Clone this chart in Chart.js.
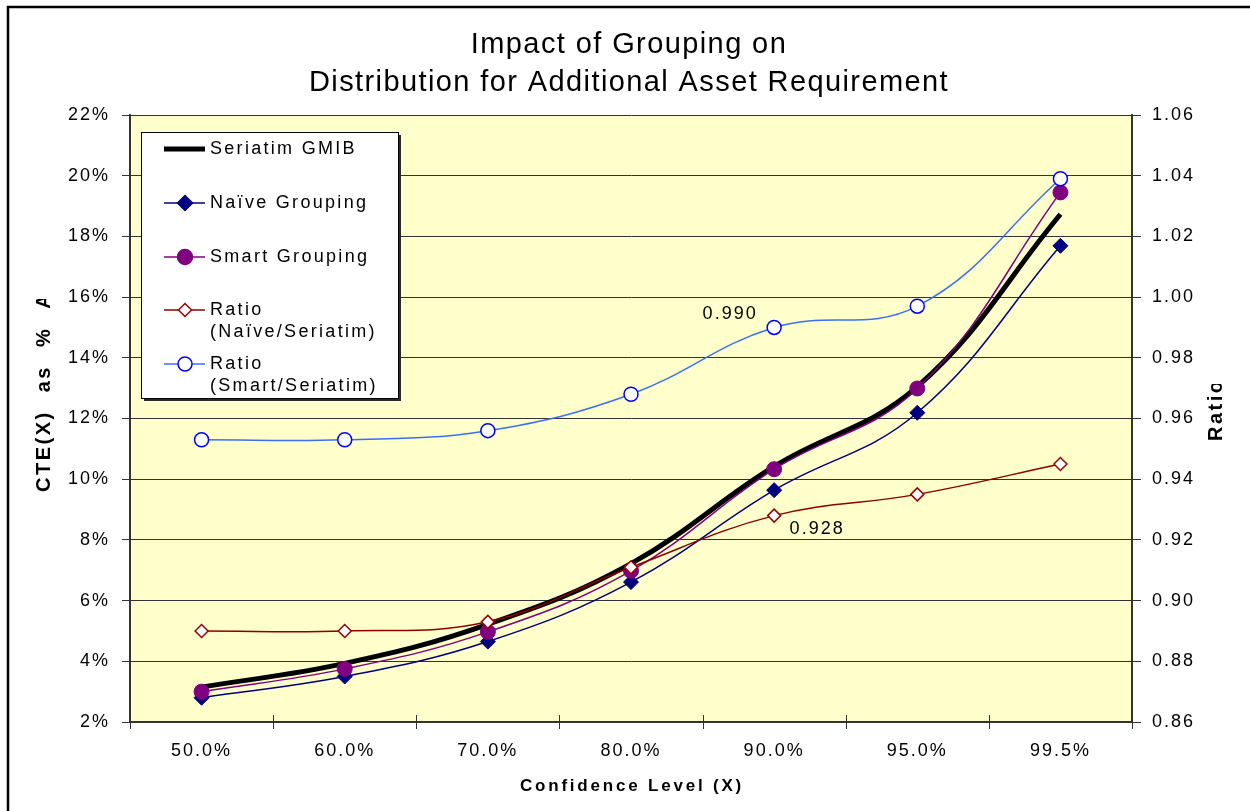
<!DOCTYPE html>
<html>
<head>
<meta charset="utf-8">
<script src="https://cdn.jsdelivr.net/npm/chart.js@4.4.1/dist/chart.umd.min.js"></script>
<style>
  html, body { margin: 0; padding: 0; background: #fff; }
  #wrap { width: 1250px; height: 811px; position: relative; }
</style>
</head>
<body>
<div id="wrap"><canvas id="c" width="1250" height="811"></canvas></div>
<script>
// Confidence levels on the category axis
const categories = ['50.0%', '60.0%', '70.0%', '80.0%', '90.0%', '95.0%', '99.5%'];

// CTE(X) as % of account value (left axis)
const seriatimGMIB = [3.15, 3.93, 5.22, 7.22, 10.42, 13.05, 18.73];
const naiveGrouping = [2.80, 3.50, 4.65, 6.61, 9.64, 12.19, 17.69];
const smartGrouping = [3.00, 3.75, 4.97, 6.98, 10.33, 12.99, 19.45];

// Ratios to seriatim (right axis)
const ratioNaive = [0.890, 0.890, 0.893, 0.911, 0.928, 0.935, 0.945];
const ratioSmart = [0.953, 0.953, 0.956, 0.968, 0.990, 0.997, 1.039];

// Axis ranges / tick steps
const leftTicks = { min: 2, max: 22, step: 2 };
const rightTicks = { min: 0.86, max: 1.06, step: 0.02 };

const titleLines = ['Impact of Grouping on', 'Distribution for Additional Asset Requirement'];
const xTitle = 'Confidence Level (X)';
const yTitle = 'CTE(X) as % A';
const y1Title = 'Ratio';

const FONT = '"Liberation Sans", Arial, Helvetica, sans-serif';
const GRID = '#333333';

const canvas = document.getElementById('c');
const ctx0 = canvas.getContext('2d');
ctx0.letterSpacing = '2px';

function drawMarker(ctx, style, x, y, r, fill, stroke, lw) {
  ctx.save();
  ctx.beginPath();
  if (style === 'rectRot') {
    ctx.moveTo(x - r, y);
    ctx.lineTo(x, y - r);
    ctx.lineTo(x + r, y);
    ctx.lineTo(x, y + r);
    ctx.closePath();
  } else {
    ctx.arc(x, y, r, 0, Math.PI * 2);
  }
  ctx.fillStyle = fill;
  ctx.fill();
  ctx.lineWidth = lw;
  ctx.strokeStyle = stroke;
  ctx.stroke();
  ctx.restore();
}

const legendEntries = [
  { lines: ['Seriatim GMIB'], color: '#000000', width: 5, marker: null, y: 149 },
  { lines: ['Naïve Grouping'], color: '#000080', width: 1.5, marker: ['rectRot', 7.5, '#000080', '#000080'], y: 203 },
  { lines: ['Smart Grouping'], color: '#800080', width: 1.5, marker: ['circle', 7.5, '#800080', '#800080'], y: 257 },
  { lines: ['Ratio', '(Naïve/Seriatim)'], color: '#8B0000', width: 1.5, marker: ['rectRot', 6.5, '#ffffff', '#990000'], y: 310 },
  { lines: ['Ratio', '(Smart/Seriatim)'], color: '#3A6EFF', width: 1.5, marker: ['circle', 7, '#ffffff', '#0000FF'], y: 364 }
];

const decor = {
  id: 'decor',
  beforeDraw(chart) {
    const ctx = chart.ctx, a = chart.chartArea;
    ctx.letterSpacing = '2px';
    ctx.save();
    ctx.fillStyle = '#ffffff';
    ctx.fillRect(0, 0, chart.width, chart.height);
    ctx.fillStyle = '#FFFFCC';
    ctx.fillRect(a.left, a.top, a.right - a.left, a.bottom - a.top);
    ctx.restore();
  },
  afterDatasetsDraw(chart) {
    const ctx = chart.ctx;
    // value callouts
    ctx.save();
    ctx.font = '18px ' + FONT;
    ctx.letterSpacing = '2px';
    ctx.fillStyle = '#000';
    ctx.textAlign = 'center';
    ctx.textBaseline = 'middle';
    const pS = chart.getDatasetMeta(4).data[4];
    ctx.fillText(ratioSmart[4].toFixed(3), pS.x - 44, pS.y - 13);
    const pN = chart.getDatasetMeta(3).data[4];
    ctx.fillText(ratioNaive[4].toFixed(3), pN.x + 43, pN.y + 13);
    ctx.restore();

    // legend box
    const lx = 141, ly = 132, lw = 257, lh = 266;
    ctx.save();
    ctx.fillStyle = '#2a2a2a';
    ctx.fillRect(lx + 3, ly + 3, lw, lh);
    ctx.fillStyle = '#ffffff';
    ctx.fillRect(lx, ly, lw, lh);
    ctx.strokeStyle = '#000';
    ctx.lineWidth = 1;
    ctx.strokeRect(lx + 0.5, ly + 0.5, lw, lh);
    ctx.font = '18px ' + FONT;
    ctx.letterSpacing = '2.3px';
    ctx.textAlign = 'left';
    ctx.textBaseline = 'middle';
    legendEntries.forEach(e => {
      ctx.beginPath();
      ctx.strokeStyle = e.color;
      ctx.lineWidth = e.width;
      ctx.moveTo(164, e.y);
      ctx.lineTo(205, e.y);
      ctx.stroke();
      if (e.marker) drawMarker(ctx, e.marker[0], 185, e.y, e.marker[1], e.marker[2], e.marker[3], 1.5);
      ctx.fillStyle = '#000';
      e.lines.forEach((t, i) => ctx.fillText(t, 210, e.y + i * 22));
    });
    ctx.restore();
  },
  afterDraw(chart) {
    const ctx = chart.ctx, a = chart.chartArea;
    const xs = chart.scales.x;
    ctx.save();
    // cross tick marks between categories
    const half = (xs.getPixelForValue(1) - xs.getPixelForValue(0)) / 2;
    ctx.strokeStyle = GRID;
    ctx.lineWidth = 1;
    for (let i = 0; i <= categories.length; i++) {
      const px = Math.round(xs.getPixelForValue(i) - half) + 0.5;
      ctx.beginPath();
      ctx.moveTo(px, a.bottom - 7);
      ctx.lineTo(px, a.bottom + 7);
      ctx.stroke();
    }

    // outer frame
    ctx.strokeStyle = '#000';
    ctx.lineWidth = 2.5;
    ctx.strokeRect(8, 7, 1400, 1000);

    // chart title
    ctx.fillStyle = '#000';
    ctx.font = '29px ' + FONT;
    ctx.letterSpacing = '1.4px';
    ctx.textAlign = 'center';
    ctx.textBaseline = 'alphabetic';
    ctx.fillText(titleLines[0], 629, 53);
    ctx.fillText(titleLines[1], 629, 91);

    // x axis title
    ctx.font = 'bold 17px ' + FONT;
    ctx.letterSpacing = '2.8px';
    ctx.fillText(xTitle, 632, 791);

    // left axis title (clipped)
    ctx.save();
    ctx.beginPath();
    ctx.rect(0, 299, 120, 400);
    ctx.clip();
    ctx.translate(50, 492);
    ctx.rotate(-Math.PI / 2);
    ctx.textAlign = 'left';
    ctx.font = 'bold 20px ' + FONT;
    ctx.letterSpacing = '2.5px';
    ctx.wordSpacing = '10px';
    ctx.fillText(yTitle, 0, 0);
    ctx.restore();

    // right axis title (clipped)
    ctx.save();
    ctx.beginPath();
    ctx.rect(1190, 384, 60, 200);
    ctx.clip();
    ctx.translate(1222, 441);
    ctx.rotate(-Math.PI / 2);
    ctx.textAlign = 'left';
    ctx.font = 'bold 20px ' + FONT;
    ctx.letterSpacing = '2.5px';
    ctx.fillText(y1Title, 0, 0);
    ctx.restore();

    ctx.restore();
  }
};

const tickFont = { family: FONT, size: 18 };

new Chart(ctx0, {
  type: 'line',
  data: {
    labels: categories,
    datasets: [
      { label: 'Seriatim GMIB', data: seriatimGMIB, yAxisID: 'y', borderColor: '#000000', borderWidth: 5,
        pointRadius: 0, tension: 0.4, order: 5, borderCapStyle: 'butt' },
      { label: 'Naïve Grouping', data: naiveGrouping, yAxisID: 'y', borderColor: '#000080', borderWidth: 1.5,
        pointStyle: 'rectRot', pointRadius: 7.5, pointBackgroundColor: '#000080', pointBorderColor: '#000080',
        pointBorderWidth: 1, tension: 0.4, order: 4 },
      { label: 'Smart Grouping', data: smartGrouping, yAxisID: 'y', borderColor: '#800080', borderWidth: 1.5,
        pointStyle: 'circle', pointRadius: 7.5, pointBackgroundColor: '#800080', pointBorderColor: '#800080',
        pointBorderWidth: 1, tension: 0.4, order: 3 },
      { label: 'Ratio (Naïve/Seriatim)', data: ratioNaive, yAxisID: 'y1', borderColor: '#8B0000', borderWidth: 1.5,
        pointStyle: 'rectRot', pointRadius: 6.5, pointBackgroundColor: '#ffffff', pointBorderColor: '#990000',
        pointBorderWidth: 1.5, tension: 0.4, order: 2 },
      { label: 'Ratio (Smart/Seriatim)', data: ratioSmart, yAxisID: 'y1', borderColor: '#3A6EFF', borderWidth: 1.5,
        pointStyle: 'circle', pointRadius: 7, pointBackgroundColor: '#ffffff', pointBorderColor: '#0000FF',
        pointBorderWidth: 1.5, tension: 0.4, order: 1 }
    ]
  },
  options: {
    responsive: false,
    animation: false,
    devicePixelRatio: 1,
    layout: { padding: { top: 115, left: 0, right: 0, bottom: 0 } },
    plugins: { legend: { display: false }, tooltip: { enabled: false }, title: { display: false } },
    scales: {
      x: {
        type: 'category', offset: true,
        grid: { display: false },
        border: { display: true, color: GRID, width: 2 },
        ticks: { font: tickFont, color: '#000', padding: 10, maxRotation: 0, autoSkip: false },
        afterFit(s) { s.height = 89; }
      },
      y: {
        position: 'left', min: leftTicks.min, max: leftTicks.max,
        ticks: { stepSize: leftTicks.step, callback: v => v + '%', font: tickFont, color: '#000', padding: 12 },
        grid: { color: GRID, lineWidth: 1, tickLength: 8, tickColor: GRID },
        border: { display: true, color: GRID, width: 2 },
        afterFit(s) { s.width = 130; }
      },
      y1: {
        position: 'right', min: rightTicks.min, max: rightTicks.max,
        ticks: { stepSize: rightTicks.step, callback: v => v.toFixed(2), font: tickFont, color: '#000', padding: 11 },
        grid: { drawOnChartArea: false, tickLength: 9, tickColor: GRID },
        border: { display: true, color: GRID, width: 2 },
        afterFit(s) { s.width = 118; }
      }
    }
  },
  plugins: [decor]
});
</script>
</body>
</html>
